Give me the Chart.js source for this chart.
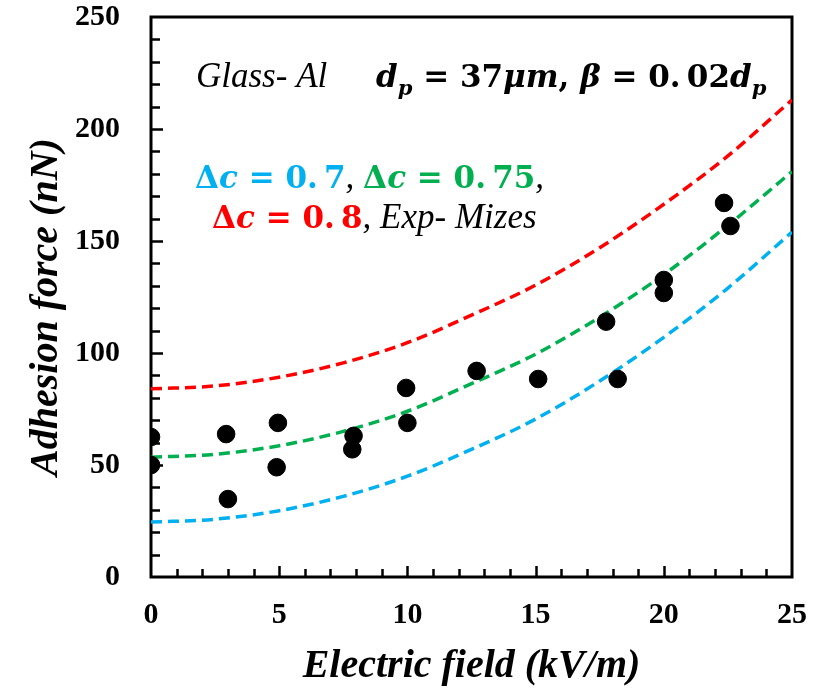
<!DOCTYPE html>
<html>
<head>
<meta charset="utf-8">
<script src="https://cdn.jsdelivr.net/npm/chart.js@4.4.1/dist/chart.umd.min.js"></script>
<style>
    html, body { margin: 0; padding: 0; background: #fff; }
    #wrap { width: 827px; height: 688px; }
</style>
</head>
<body>
<div id="wrap"><canvas id="adhesionChart" width="827" height="688"></canvas></div>
<script>
// Electric field (kV/m) sample points for the model curves
const FIELD_GRID = [0, 2.5, 5, 7.5, 10, 12.5, 15, 17.5, 20, 22.5, 25];
// Model adhesion force (nN)
const FIT_07 = [24.5, 25.8, 29.6, 36, 45, 57, 70.5, 87.5, 107, 129, 154];
const FIT_075 = [53.5, 54.8, 58.6, 65, 74, 86.3, 99.5, 116, 135, 157, 181];
const FIT_08 = [84, 85.3, 89.2, 95.6, 104.6, 116.9, 130.3, 147, 166.4, 188, 213];

// Mizes experimental points
const EXP_FIELD = [0, 0, 2.93, 3.0, 4.95, 4.9, 7.9, 7.85, 9.95, 10, 12.7, 15.1, 17.75, 18.2, 20, 20, 22.35, 22.6];
const EXP_FORCE = [62.5, 50, 63.8, 34.8, 68.8, 49, 63, 57, 84.4, 68.8, 92, 88.4, 114, 88.4, 132.6, 126.8, 167, 156.7];

const X_RANGE = [0, 25];
const Y_RANGE = [0, 250];
const X_STEP = 5, X_MINOR = 1;
const Y_STEP = 50, Y_MINOR = 10;

const COLORS = { c07: '#00b0f0', c075: '#00b050', c08: '#ff0000', exp: '#000000' };

const SERIF = '"Liberation Serif", "Times New Roman", serif';
const MATH = '"DejaVu Serif", serif';

function toPoints(xs, ys) {
    return xs.map((x, i) => ({ x: x, y: ys[i] }));
}

function curve(label, ys, color) {
    return {
        label: label,
        type: 'line',
        data: toPoints(FIELD_GRID, ys),
        borderColor: color,
        borderWidth: 3.5,
        borderDash: [11, 6],
        pointRadius: 0,
        fill: false,
        cubicInterpolationMode: 'monotone',
        order: 2
    };
}

// inward tick marks + box frame
const frameTicks = {
    id: 'frameTicks',
    beforeDatasetsDraw(chart) {
        const { ctx, chartArea: a, scales: { x, y } } = chart;
        ctx.save();
        ctx.strokeStyle = '#000';
        ctx.lineWidth = 2.5;
        ctx.beginPath();
        for (let v = X_RANGE[0] + X_MINOR; v < X_RANGE[1]; v += X_MINOR) {
            const px = Math.round(x.getPixelForValue(v)) + 0.5;
            const len = v % X_STEP === 0 ? 11 : 8;
            ctx.moveTo(px, a.bottom); ctx.lineTo(px, a.bottom - len);
        }
        for (let v = Y_RANGE[0] + Y_MINOR; v < Y_RANGE[1]; v += Y_MINOR) {
            const py = Math.round(y.getPixelForValue(v)) + 0.5;
            const len = v % Y_STEP === 0 ? 12 : 9;
            ctx.moveTo(a.left, py); ctx.lineTo(a.left + len, py);
        }
        ctx.stroke();
        ctx.lineWidth = 3;
        ctx.strokeRect(a.left, a.top, a.right - a.left, a.bottom - a.top);
        ctx.restore();
    }
};

function drawRuns(ctx, x, y, runs) {
    runs.forEach(r => {
        ctx.font = r.f;
        ctx.fillStyle = r.c || '#000';
        ctx.fillText(r.t, x, y + (r.dy || 0));
        x += ctx.measureText(r.t).width + (r.gap || 0);
    });
}

// text labels inside the plot
const annotations = {
    id: 'annotations',
    afterDraw(chart) {
        const ctx = chart.ctx;
        const it = `italic 35px ${SERIF}`;
        const mb = `bold 31px ${MATH}`;
        const mbi = `italic bold 31px ${MATH}`;
        const sub = `italic bold 21px ${MATH}`;
        ctx.save();
        ctx.textBaseline = 'alphabetic';
        drawRuns(ctx, 196, 87, [{ t: 'Glass- Al', f: it }]);
        drawRuns(ctx, 376, 87, [
            { t: 'd', f: mbi }, { t: 'p', f: sub, dy: 8 },
            { t: ' = 37', f: mb }, { t: 'μm', f: mbi }, { t: ', ', f: mb },
            { t: 'β', f: mbi }, { t: ' = 0.\u200902', f: mb },
            { t: 'd', f: mbi }, { t: 'p', f: sub, dy: 8 }
        ]);
        drawRuns(ctx, 195, 188, [
            { t: 'Δ', f: mb, c: COLORS.c07 }, { t: 'c', f: mbi, c: COLORS.c07 },
            { t: ' = 0.\u20097', f: mb, c: COLORS.c07 }, { t: ', ', f: it },
            { t: 'Δ', f: mb, c: COLORS.c075 }, { t: 'c', f: mbi, c: COLORS.c075 },
            { t: ' = 0.\u200975', f: mb, c: COLORS.c075 }, { t: ',', f: it }
        ]);
        drawRuns(ctx, 212, 228, [
            { t: 'Δ', f: mb, c: COLORS.c08 }, { t: 'c', f: mbi, c: COLORS.c08 },
            { t: ' = 0.\u20098', f: mb, c: COLORS.c08 }, { t: ', ', f: it },
            { t: 'Exp- Mizes', f: it }
        ]);
        ctx.restore();
    }
};

const ctx = document.getElementById('adhesionChart').getContext('2d');
new Chart(ctx, {
    type: 'scatter',
    data: {
        datasets: [
            curve('Δc = 0.7', FIT_07, COLORS.c07),
            curve('Δc = 0.75', FIT_075, COLORS.c075),
            curve('Δc = 0.8', FIT_08, COLORS.c08),
            {
                label: 'Exp- Mizes',
                data: toPoints(EXP_FIELD, EXP_FORCE),
                backgroundColor: COLORS.exp,
                borderColor: COLORS.exp,
                pointRadius: 8.8,
                pointHoverRadius: 8.8,
                order: 1
            }
        ]
    },
    options: {
        responsive: false,
        devicePixelRatio: 1,
        animation: false,
        layout: { padding: { left: 0, right: 35, top: 17, bottom: 0 } },
        plugins: { legend: { display: false }, tooltip: { enabled: false } },
        scales: {
            x: {
                type: 'linear', min: X_RANGE[0], max: X_RANGE[1],
                grid: { display: false, drawTicks: false },
                border: { display: false },
                ticks: { stepSize: X_STEP, color: '#000', padding: 20, font: { family: SERIF, size: 30, weight: 'bold' } },
                title: { display: true, text: 'Electric field (kV/m)', color: '#000', padding: { top: 0, bottom: 1 }, font: { family: SERIF, size: 40, weight: 'bold', style: 'italic', lineHeight: 1 } },
                afterFit: s => { s.height = 111; s.paddingLeft = 0; s.paddingRight = 0; }
            },
            y: {
                type: 'linear', min: Y_RANGE[0], max: Y_RANGE[1],
                grid: { display: false, drawTicks: false },
                border: { display: false },
                ticks: { stepSize: Y_STEP, color: '#000', padding: 31, font: { family: SERIF, size: 30, weight: 'bold' } },
                title: { display: true, text: 'Adhesion force (nN)  ', color: '#000', padding: { top: 27, bottom: 0 }, font: { family: SERIF, size: 40, weight: 'bold', style: 'italic', lineHeight: 1 } },
                afterFit: s => { s.width = 151; s.paddingTop = 0; s.paddingBottom = 0; }
            }
        }
    },
    plugins: [frameTicks, annotations]
});
</script>
</body>
</html>
